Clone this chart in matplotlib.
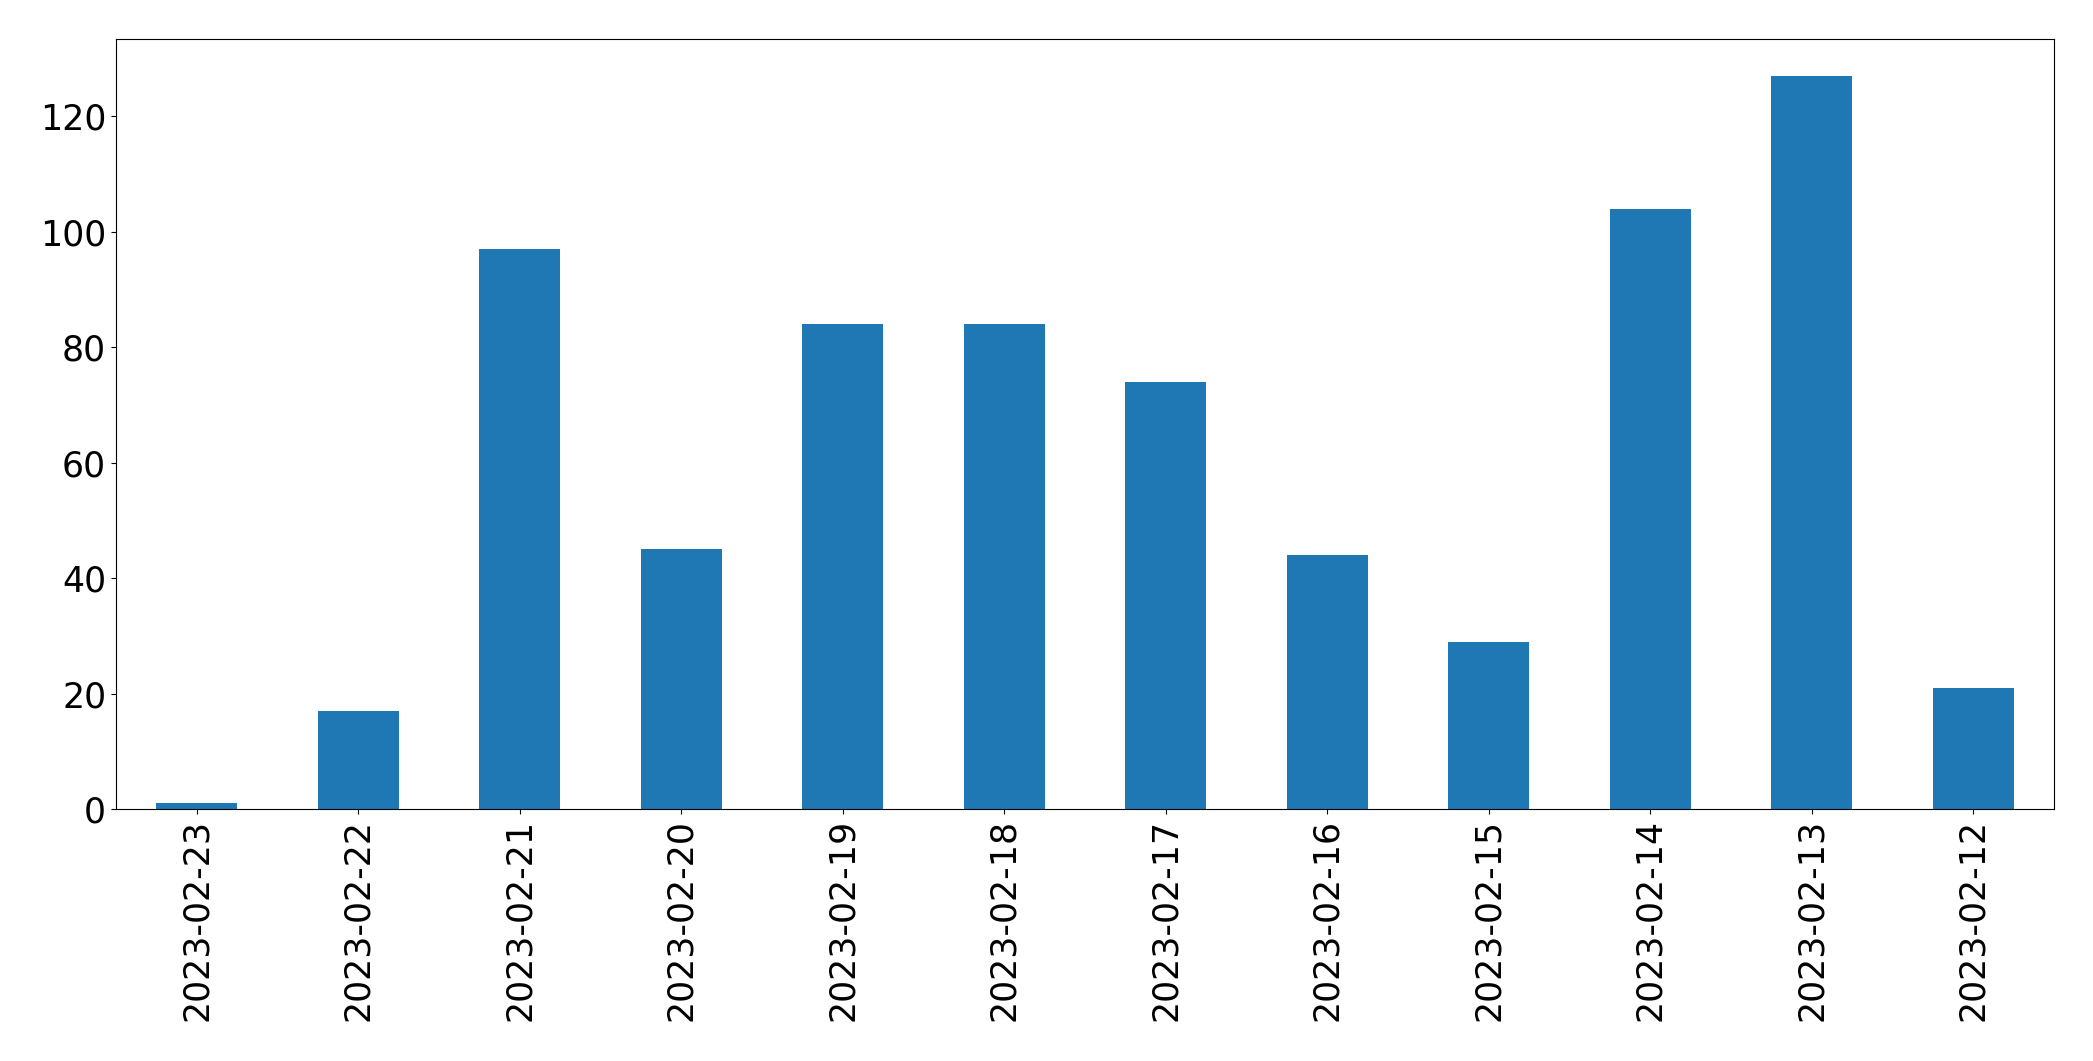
import matplotlib
matplotlib.use("Agg")
import matplotlib.pyplot as plt
import numpy as np

dates = ["2023-02-23", "2023-02-22", "2023-02-21", "2023-02-20", "2023-02-19", "2023-02-18",
         "2023-02-17", "2023-02-16", "2023-02-15", "2023-02-14", "2023-02-13", "2023-02-12"]
counts = [1, 17, 97, 45, 84, 84, 74, 44, 29, 104, 127, 21]

fig = plt.figure(figsize=(20.93, 10.61), dpi=100)
ax = fig.add_axes([0.0554, 0.2375, 0.926, 0.7255])
x = np.arange(len(dates))
ax.bar(x, counts, width=0.5, color="#1f77b4")
ax.set_xlim(-0.5, len(dates) - 0.5)
ax.set_xticks(x)
ax.set_xticklabels(dates, rotation=90, fontsize=25)
ax.tick_params(axis="y", labelsize=25)
fig.savefig("out.png", dpi=100)
